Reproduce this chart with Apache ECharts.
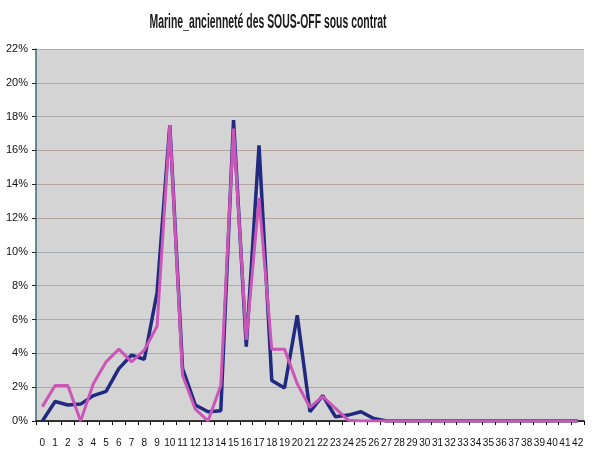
<!DOCTYPE html>
<html><head><meta charset="utf-8">
<script src="https://cdn.jsdelivr.net/npm/echarts@6/dist/echarts.min.js"></script>
<style>html,body{margin:0;padding:0;background:#fff}#c{width:593px;height:457px}</style>
</head><body><div id="c"></div>
<script>
var categories = [];
for (var i = 0; i <= 42; i++) categories.push(String(i));
var seriesBlue = [0, 1.15, 0.95, 1.0, 1.5, 1.75, 3.1, 3.9, 3.65, 7.6, 17.5, 3.1, 0.95, 0.55, 0.6, 17.8, 4.4, 16.3, 2.4, 1.95, 6.25, 0.55, 1.5, 0.25, 0.35, 0.55, 0.15, 0, 0, 0, 0, 0, 0, 0, 0, 0, 0, 0, 0, 0, 0, 0, 0];
var seriesPink = [0.85, 2.1, 2.1, 0, 2.2, 3.5, 4.25, 3.5, 4.2, 5.6, 17.5, 2.7, 0.7, 0, 2.1, 17.3, 4.8, 13.2, 4.25, 4.25, 2.2, 0.8, 1.45, 0.75, 0.05, 0, 0, 0, 0, 0, 0, 0, 0, 0, 0, 0, 0, 0, 0, 0, 0, 0, 0];
var yTicks = [0, 2, 4, 6, 8, 10, 12, 14, 16, 18, 20, 22];
var titleText = 'Marine_ancienneté des SOUS-OFF sous contrat';

var font = "'Liberation Sans',Arial,sans-serif";
var gridColors = ['#a9b4bb', '#b7a39e', '#9fb1bd', '#9fb1bd', '#9fb1bd', '#a3afb8', '#b7a39e', '#b7a39e', '#b7a39e', '#aeaaa8', '#9fb1bd', '#9fb1bd'];

// measure title to squeeze it to the reference's condensed width
var mc = document.createElement('canvas').getContext('2d');
mc.font = 'bold 20px ' + font;
var titleW = mc.measureText(titleText).width;
var titleScale = 237 / titleW;

var chart = echarts.init(document.getElementById('c'));
chart.setOption({
  animation: false,
  graphic: [{
    type: 'text', x: 268, y: 22, scaleX: titleScale, scaleY: 1,
    style: {text: titleText, font: 'bold 20px ' + font, fill: '#1a1a1a', align: 'center', verticalAlign: 'middle'}
  }],
  grid: {left: 36, right: 9, top: 49, bottom: 36, show: true, backgroundColor: '#d4d4d4', borderWidth: 0},
  xAxis: {
    type: 'category', data: categories, boundaryGap: true,
    axisLine: {lineStyle: {color: '#000', width: 1.5}},
    axisTick: {show: true, length: 4, lineStyle: {color: '#000'}},
    axisLabel: {interval: 0, fontFamily: font, fontSize: 10, color: '#111', margin: 17}
  },
  yAxis: {
    type: 'value', min: 0, max: 22, interval: 2,
    axisLine: {show: true, lineStyle: {color: '#3a6a78', width: 1.5}},
    axisTick: {show: true, length: 4, lineStyle: {color: '#222'}},
    axisLabel: {formatter: function (v) { return v + '%'; }, fontFamily: font, fontSize: 11, color: '#111', margin: 8},
    splitLine: {show: true, lineStyle: {color: gridColors, width: 1.2}}
  },
  series: [
    {type: 'line', data: seriesBlue, symbol: 'none', lineStyle: {color: '#1f2a80', width: 3.5}, itemStyle: {color: '#1f2a80'}, z: 2},
    {type: 'line', data: seriesPink, symbol: 'none', lineStyle: {color: '#cc55b8', width: 3}, itemStyle: {color: '#cc55b8'}, z: 3}
  ]
});
</script>
</body></html>
